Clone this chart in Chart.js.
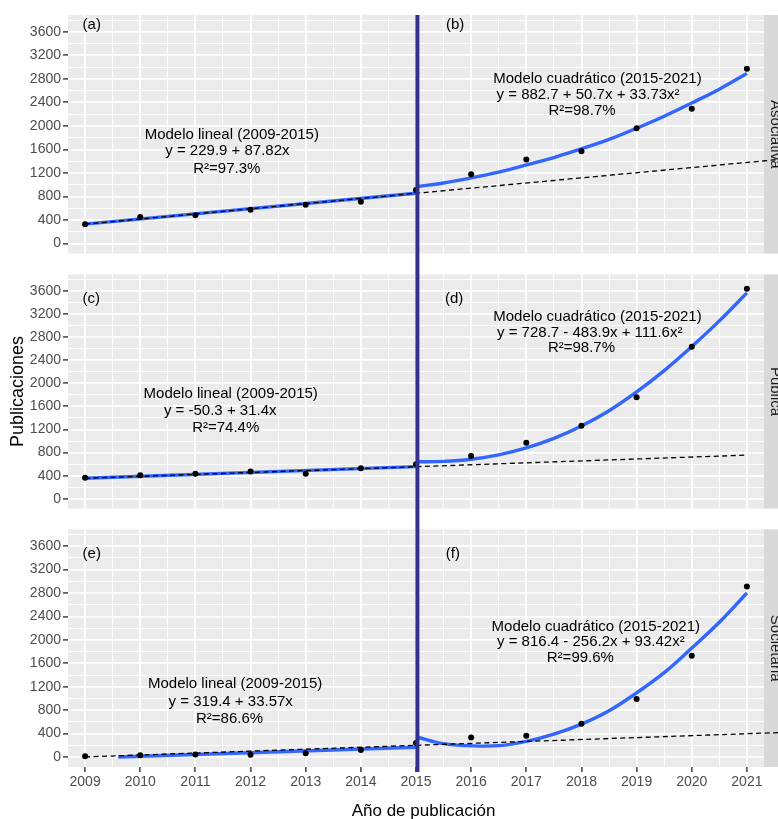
<!DOCTYPE html>
<html>
<head>
<meta charset="utf-8">
<script src="https://cdn.jsdelivr.net/npm/chart.js@4.4.1/dist/chart.umd.min.js"></script>
<style>
html,body{margin:0;padding:0;background:#ffffff;}
#wrap{position:relative;width:778px;height:819px;overflow:hidden;background:#ffffff;}
#wrap canvas{position:absolute;left:0;}
</style>
</head>
<body>
<div id="wrap">
<canvas id="c1" width="778" height="264" style="top:0px"></canvas>
<canvas id="c2" width="778" height="255" style="top:264px"></canvas>
<canvas id="c3" width="778" height="300" style="top:519px"></canvas>
</div>
<script>
// ---------------- DATA ----------------
const years = [2009, 2010, 2011, 2012, 2013, 2014, 2015, 2016, 2017, 2018, 2019, 2020, 2021];
const quadYears = [2015, 2015.5, 2016, 2016.5, 2017, 2017.5, 2018, 2018.5, 2019, 2019.5, 2020, 2020.5, 2021];
const xTickLabels = ['2009','2010','2011','2012','2013','2014','2015','2016','2017','2018','2019','2020','2021'];
const yTickValues = [0, 400, 800, 1200, 1600, 2000, 2400, 2800, 3200, 3600];
const yTickLabels = ['0','400','800','1200','1600','2000','2400','2800','3200','3600'];
const breakYear = 2015;

// Asociativa
const asociativaPubs   = [330, 450, 480, 575, 660, 710, 910, 1180, 1430, 1570, 1960, 2290, 2970];
const asociativaLinX   = [2009, 2015];
const asociativaLinY   = [330, 855];
const asociativaTrendX = [2009, 2021.6];
const asociativaTrendY = [330, 1432];
const asociativaQuadY  = [967, 1030, 1117, 1215, 1338, 1462, 1610, 1770, 1960, 2165, 2390, 2625, 2890];

// Pública
const publicaPubs   = [362, 407, 434, 474, 434, 529, 600, 740, 972, 1265, 1758, 2634, 3636];
const publicaLinX   = [2009, 2015];
const publicaLinY   = [355, 556];
const publicaTrendX = [2009, 2021];
const publicaTrendY = [355, 756];
const publicaQuadY  = [640, 648, 685, 760, 880, 1045, 1260, 1525, 1850, 2220, 2635, 3080, 3565];

// Societaria
const societariaPubs   = [13, 30, 42, 40, 63, 118, 241, 334, 362, 567, 989, 1730, 2910];
const societariaLinX   = [2009.6, 2015];
const societariaLinY   = [0, 168];
const societariaTrendX = [2009, 2021.6];
const societariaTrendY = [2, 418];
const societariaQuadY  = [346, 228, 192, 195, 268, 392, 562, 790, 1095, 1440, 1860, 2300, 2800];

// Texts
const stripLabels = ['Asociativa', 'Pública', 'Societaria'];
const panelTags = [['(a)','(b)'], ['(c)','(d)'], ['(e)','(f)']];
const linTitle = 'Modelo lineal (2009-2015)';
const quadTitle = 'Modelo cuadrático (2015-2021)';
const linEq = ['y = 229.9 + 87.82x', 'y = -50.3 + 31.4x', 'y = 319.4 + 33.57x'];
const linR2 = ['R²=97.3%', 'R²=74.4%', 'R²=86.6%'];
const quadEq = ['y = 882.7 + 50.7x + 33.73x²', 'y = 728.7 - 483.9x + 111.6x²', 'y = 816.4 - 256.2x + 93.42x²'];
const quadR2 = ['R²=98.7%', 'R²=98.7%', 'R²=99.6%'];
const xTitle = 'Año de publicación';
const yTitle = 'Publicaciones';

// ---------------- STYLE / LAYOUT ----------------
const FONT = "'Liberation Sans', Arial, Helvetica, sans-serif";
Chart.defaults.font.family = FONT;
const X_MIN = 2008.69, X_MAX = 2021.31, Y_MIN = -170, Y_MAX = 3885;
const xGrid = []; for (let v = 2009; v <= 2021.001; v += 0.5) xGrid.push(Math.round(v * 2) / 2);
const yGrid = []; for (let v = 0; v <= 3800; v += 200) yGrid.push(v);

// annotation anchors in data coordinates (per panel)
const annot = [
  { tagY: 3720, tagX: [2009.12, 2015.71],
    lin: [[2011.66, 1853], [2011.58, 1571], [2011.57, 1265]],
    quad: [[2018.29, 2805], [2018.12, 2528], [2018.01, 2262]] },
  { tagY: 3470, tagX: [2009.11, 2015.69],
    lin: [[2011.64, 1820], [2011.45, 1526], [2011.55, 1227]],
    quad: [[2018.29, 3149], [2018.15, 2872], [2018.00, 2611]] },
  { tagY: 3460, tagX: [2009.12, 2015.67],
    lin: [[2011.72, 1248], [2011.64, 944], [2011.62, 656]],
    quad: [[2018.26, 2229], [2018.17, 1969], [2017.98, 1692]] }
];

function pts(xs, ys) { return xs.map((x, i) => ({ x: x, y: ys[i] })); }

const panels = [
  { id: 'c1', pubs: asociativaPubs, linX: asociativaLinX, linY: asociativaLinY, trX: asociativaTrendX, trY: asociativaTrendY, quadY: asociativaQuadY,
    padTop: 15, padBottom: 5, showX: false, xH: 0, lineFromTop: false },
  { id: 'c2', pubs: publicaPubs, linX: publicaLinX, linY: publicaLinY, trX: publicaTrendX, trY: publicaTrendY, quadY: publicaQuadY,
    padTop: 5, padBottom: 6, showX: false, xH: 0, lineFromTop: true, yTitle: true },
  { id: 'c3', pubs: societariaPubs, linX: societariaLinX, linY: societariaLinY, trX: societariaTrendX, trY: societariaTrendY, quadY: societariaQuadY,
    padTop: 4, padBottom: 0, showX: true, xH: 52, lineFromTop: true, xTitle: true }
];

const decor = {
  id: 'decor',
  beforeDraw(chart, args, o) {
    const { ctx, chartArea: a } = chart;
    ctx.save();
    ctx.fillStyle = '#EBEBEB';
    ctx.fillRect(a.left, a.top, a.right - a.left, a.bottom - a.top);
    ctx.restore();
  },
  beforeDatasetsDraw(chart, args, o) {
    const { ctx, chartArea: a } = chart;
    ctx.save();
    ctx.fillStyle = '#D9D9D9';
    ctx.fillRect(a.right, a.top, 30, a.bottom - a.top);
    ctx.fillStyle = '#1A1A1A';
    ctx.font = '15px ' + FONT;
    ctx.translate(a.right + 7, (a.top + a.bottom) / 2);
    ctx.rotate(Math.PI / 2);
    ctx.textAlign = 'center';
    ctx.textBaseline = 'alphabetic';
    ctx.fillText(o.strip, 0, 0);
    ctx.restore();
  },
  afterDatasetsDraw(chart, args, o) {
    const { ctx, chartArea: a } = chart;
    const xs = chart.scales.x, ys = chart.scales.y;
    const an = annot[o.idx];
    ctx.save();
    ctx.fillStyle = '#000000';
    ctx.font = '15px ' + FONT;
    ctx.textAlign = 'center';
    ctx.textBaseline = 'middle';
    const put = (t, p) => ctx.fillText(t, xs.getPixelForValue(p[0]), ys.getPixelForValue(p[1]));
    put(panelTags[o.idx][0], [an.tagX[0], an.tagY]);
    put(panelTags[o.idx][1], [an.tagX[1], an.tagY]);
    put(linTitle, an.lin[0]); put(linEq[o.idx], an.lin[1]); put(linR2[o.idx], an.lin[2]);
    put(quadTitle, an.quad[0]); put(quadEq[o.idx], an.quad[1]); put(quadR2[o.idx], an.quad[2]);
    // vertical break line
    const bx = xs.getPixelForValue(breakYear) + 1.4;
    const y0 = o.lineFromTop ? 0 : a.top;
    const y1 = o.showX ? a.bottom + 5 : chart.height;
    ctx.strokeStyle = '#32328C';
    ctx.lineWidth = 4;
    ctx.beginPath(); ctx.moveTo(bx, y0); ctx.lineTo(bx, y1); ctx.stroke();
    // axis titles
    if (o.yTitle) {
      ctx.save();
      ctx.font = '18px ' + FONT;
      ctx.translate(18.5, (a.top + a.bottom) / 2);
      ctx.rotate(-Math.PI / 2);
      ctx.fillText(yTitle, 0, 0);
      ctx.restore();
    }
    if (o.xTitle) {
      ctx.font = '17px ' + FONT;
      ctx.textBaseline = 'alphabetic';
      ctx.fillText(xTitle, 423.5, chart.height - 3);
    }
    ctx.restore();
  }
};

const isWhole = v => Math.abs(v - Math.round(v)) < 1e-6;

panels.forEach((P, idx) => {
  const ctx = document.getElementById(P.id).getContext('2d');
  new Chart(ctx, {
    type: 'line',
    data: {
      datasets: [
        { label: 'pubs', data: pts(years, P.pubs), showLine: false, pointRadius: 3, pointBackgroundColor: '#000000',
          pointBorderWidth: 0, order: 0 },
        { label: 'trend', data: pts(P.trX, P.trY), borderColor: '#000000', borderWidth: 1.3, borderDash: [5, 3.5],
          pointRadius: 0, fill: false, order: 1, clip: { left: 0, top: 0, right: 20, bottom: 0 } },
        { label: 'lin', data: pts(P.linX, P.linY), borderColor: '#3366FF', borderWidth: 3.4, pointRadius: 0,
          fill: false, order: 2, borderCapStyle: 'butt' },
        { label: 'quad', data: pts(quadYears, P.quadY), borderColor: '#3366FF', borderWidth: 3.4, pointRadius: 0,
          fill: false, tension: 0.4, order: 3 }
      ]
    },
    options: {
      responsive: false,
      animation: false,
      events: [],
      devicePixelRatio: 1,
      layout: { padding: { top: P.padTop, bottom: P.padBottom, left: 0, right: 14 } },
      plugins: {
        legend: { display: false },
        tooltip: { enabled: false },
        decor: { idx: idx, strip: stripLabels[idx], lineFromTop: P.lineFromTop, showX: P.showX,
                 yTitle: !!P.yTitle, xTitle: !!P.xTitle }
      },
      scales: {
        x: {
          type: 'linear', min: X_MIN, max: X_MAX,
          afterBuildTicks(s) { s.ticks = xGrid.map(v => ({ value: v })); },
          afterFit(s) { s.height = P.xH; },
          border: { display: false },
          grid: {
            color: '#FFFFFF',
            lineWidth: c => (c.tick && isWhole(c.tick.value)) ? 1.8 : 0.9,
            drawTicks: P.showX, tickLength: 5, tickWidth: 1.4,
            tickColor: c => (c.tick && isWhole(c.tick.value)) ? '#333333' : 'rgba(0,0,0,0)'
          },
          ticks: {
            display: P.showX, autoSkip: false, maxRotation: 0, minRotation: 0, padding: 2,
            color: '#4D4D4D', font: { size: 14, family: FONT },
            callback: v => isWhole(v) ? xTickLabels[years.indexOf(Math.round(v))] : ''
          }
        },
        y: {
          type: 'linear', min: Y_MIN, max: Y_MAX,
          afterBuildTicks(s) { s.ticks = yGrid.map(v => ({ value: v })); },
          afterFit(s) { s.width = 68; },
          border: { display: false },
          grid: {
            color: '#FFFFFF',
            lineWidth: c => (c.tick && c.tick.value % 400 === 0) ? 1.8 : 0.9,
            drawTicks: true, tickLength: 5, tickWidth: 1.4,
            tickColor: c => (c.tick && c.tick.value % 400 === 0) ? '#333333' : 'rgba(0,0,0,0)'
          },
          ticks: {
            autoSkip: false, padding: 2, color: '#4D4D4D', font: { size: 14, family: FONT },
            callback: v => { const i = yTickValues.indexOf(v); return i >= 0 ? yTickLabels[i] : ''; }
          }
        }
      }
    },
    plugins: [decor]
  });
});
</script>
</body>
</html>
